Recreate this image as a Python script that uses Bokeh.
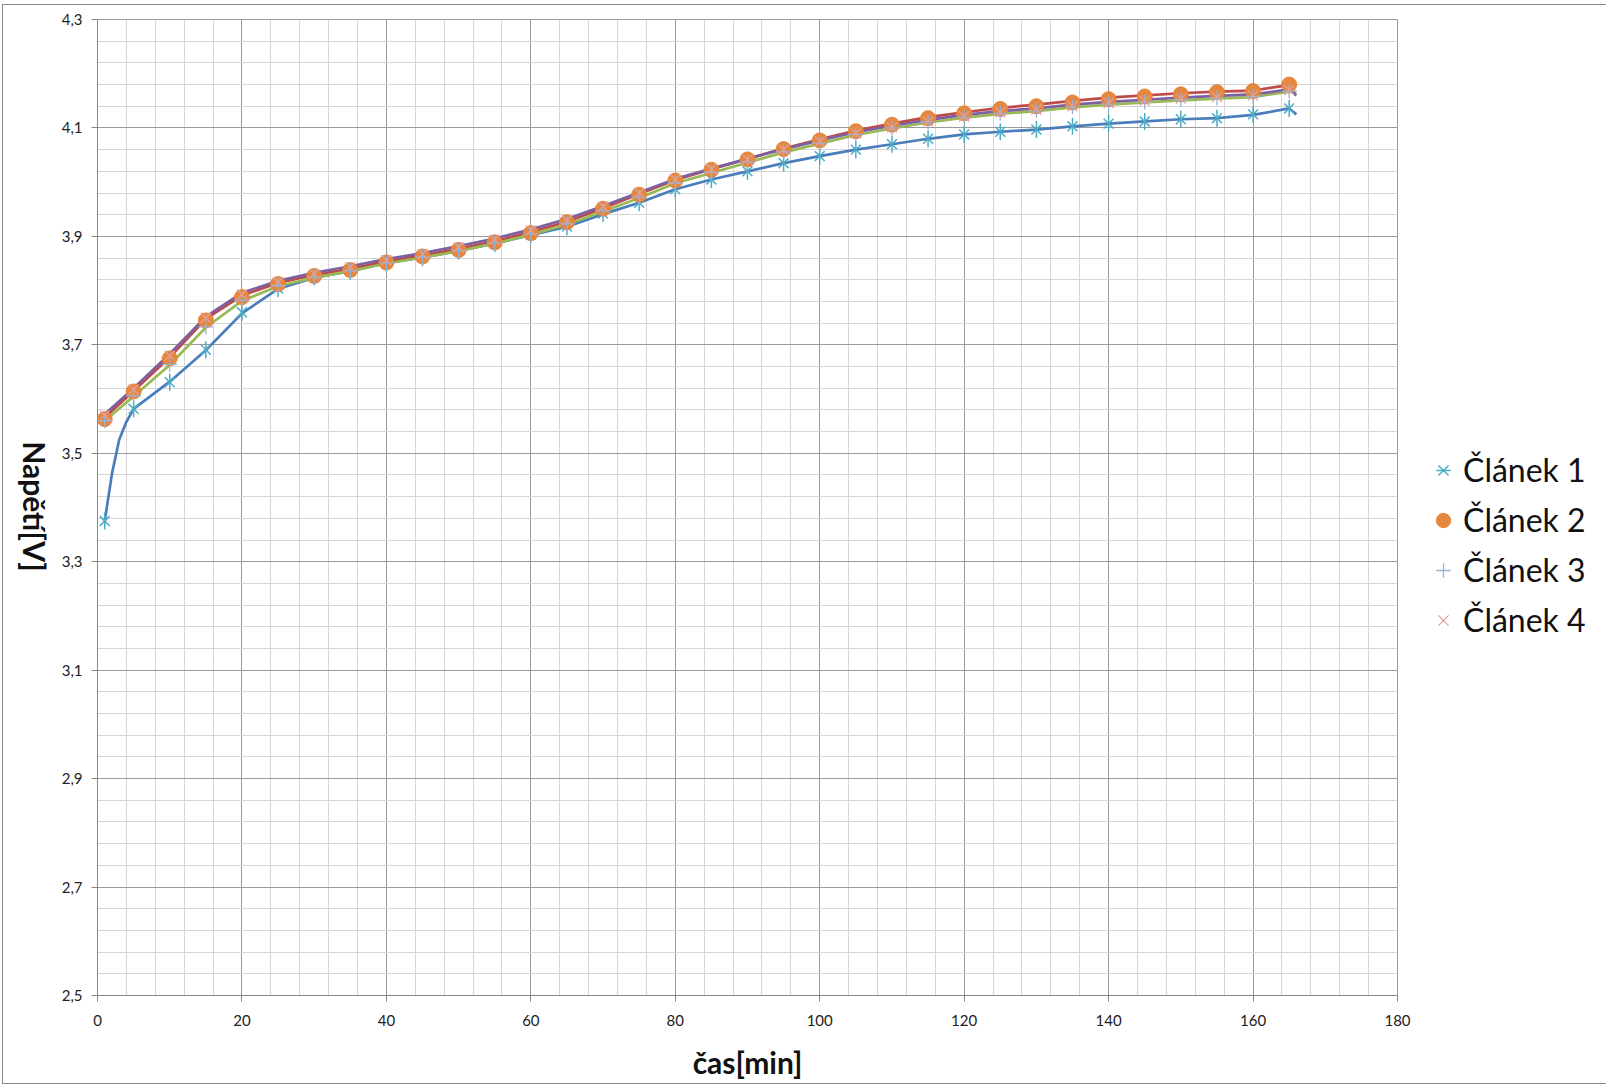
import math
from bokeh.plotting import figure
from bokeh.models import (FixedTicker, Range1d, Legend, LegendItem, Label)
from bokeh.embed import file_html
from bokeh.resources import INLINE

# ---------------- data ----------------
T = [1, 5, 10, 15, 20, 25, 30, 35, 40, 45, 50, 55, 60, 65, 70, 75, 80, 85, 90, 95,
     100, 105, 110, 115, 120, 125, 130, 135, 140, 145, 150, 155, 160, 165]

CLANEK1 = [3.375, 3.582, 3.631, 3.691, 3.760, 3.804, 3.825, 3.836, 3.851, 3.861, 3.873,
           3.887, 3.903, 3.918, 3.942, 3.962, 3.987, 4.005, 4.020, 4.035, 4.048, 4.060,
           4.070, 4.080, 4.088, 4.093, 4.097, 4.103, 4.108, 4.112, 4.116, 4.118, 4.125, 4.136]
CLANEK2 = [3.563, 3.614, 3.675, 3.745, 3.788, 3.812, 3.827, 3.838, 3.852, 3.863, 3.875,
           3.889, 3.906, 3.926, 3.951, 3.977, 4.003, 4.023, 4.042, 4.061, 4.077, 4.094,
           4.106, 4.118, 4.127, 4.135, 4.140, 4.147, 4.153, 4.158, 4.162, 4.166, 4.168, 4.180]
CLANEK3 = [3.560, 3.606, 3.664, 3.733, 3.782, 3.809, 3.825, 3.837, 3.851, 3.862, 3.874,
           3.888, 3.904, 3.923, 3.947, 3.972, 3.998, 4.018, 4.037, 4.056, 4.072, 4.088,
           4.100, 4.111, 4.120, 4.127, 4.132, 4.139, 4.144, 4.148, 4.152, 4.155, 4.158, 4.168]
CLANEK4 = [3.570, 3.618, 3.680, 3.750, 3.793, 3.816, 3.831, 3.843, 3.856, 3.867, 3.880,
           3.894, 3.911, 3.930, 3.955, 3.980, 4.005, 4.024, 4.042, 4.060, 4.075, 4.090,
           4.101, 4.112, 4.121, 4.129, 4.134, 4.140, 4.146, 4.150, 4.154, 4.157, 4.160, 4.170]

# line series (drawn without legend entries)
LINE1_T = [1, 2, 3, 4, 5, 10, 15, 20, 25, 30, 35, 40, 45, 50, 55, 60, 65, 70, 75, 80, 85,
           90, 95, 100, 105, 110, 115, 120, 125, 130, 135, 140, 145, 150, 155, 160, 165, 166]
LINE1_V = [3.375, 3.462, 3.525, 3.558, 3.582, 3.632, 3.690, 3.758, 3.803, 3.824, 3.836,
           3.851, 3.861, 3.873, 3.887, 3.902, 3.918, 3.941, 3.962, 3.987, 4.005, 4.020,
           4.035, 4.048, 4.060, 4.070, 4.080, 4.088, 4.093, 4.097, 4.103, 4.108, 4.112,
           4.116, 4.118, 4.124, 4.136, 4.125]
LINE_T = [1, 5, 10, 15, 20, 25, 30, 35, 40, 45, 50, 55, 60, 65, 70, 75, 80, 85, 90, 95,
          100, 105, 110, 115, 120, 125, 130, 135, 140, 145, 150, 155, 160, 165, 166]
LINE2_V = [3.566, 3.615, 3.677, 3.748, 3.791, 3.814, 3.829, 3.840, 3.854, 3.865, 3.877,
           3.891, 3.908, 3.927, 3.952, 3.978, 4.004, 4.024, 4.043, 4.062, 4.079, 4.095,
           4.108, 4.120, 4.129, 4.137, 4.143, 4.150, 4.156, 4.160, 4.164, 4.167, 4.169,
           4.179, 4.181]
LINE3_V = [3.560, 3.605, 3.663, 3.732, 3.781, 3.808, 3.824, 3.836, 3.850, 3.861, 3.873,
           3.887, 3.903, 3.922, 3.946, 3.971, 3.998, 4.017, 4.036, 4.055, 4.071, 4.087,
           4.099, 4.110, 4.119, 4.126, 4.131, 4.138, 4.143, 4.147, 4.151, 4.154, 4.157,
           4.167, 4.166]
LINE4_V = [3.572, 3.620, 3.683, 3.752, 3.796, 3.818, 3.833, 3.845, 3.858, 3.869, 3.882,
           3.896, 3.913, 3.932, 3.956, 3.981, 4.006, 4.025, 4.043, 4.061, 4.077, 4.092,
           4.104, 4.115, 4.124, 4.131, 4.136, 4.143, 4.148, 4.152, 4.156, 4.159, 4.162,
           4.171, 4.160]

SERIES = ["Článek 1", "Článek 2", "Článek 3", "Článek 4"]
X_TICKS = [0, 20, 40, 60, 80, 100, 120, 140, 160, 180]
Y_TICKS = [2.5, 2.7, 2.9, 3.1, 3.3, 3.5, 3.7, 3.9, 4.1, 4.3]
Y_TICK_LABELS = ["2,5", "2,7", "2,9", "3,1", "3,3", "3,5", "3,7", "3,9", "4,1", "4,3"]
X_TITLE = "čas[min]"
Y_TITLE = "Napětí[V]"

# ---------------- style ----------------
FONT = "Lato"
MAJOR = "#9a9a9a"
MINOR = "#d6d6d6"
AXIS = "#878787"

p = figure(frame_width=1300, frame_height=976, output_backend="svg", toolbar_location=None,
           x_range=Range1d(0, 180), y_range=Range1d(2.5, 4.3),
           min_border_left=94, min_border_top=14, min_border_right=200,
           min_border_bottom=88)
p.styles = {"border": "1px solid #8a8a8a", "margin-left": "2px", "margin-top": "4px"}
p.background_fill_color = "white"
p.border_fill_color = "white"
p.outline_line_color = MAJOR

x_minor = [v for v in range(0, 181, 4)]
y_minor = [round(2.5 + 0.04 * i, 2) for i in range(46)]
xt = FixedTicker(ticks=X_TICKS, minor_ticks=x_minor)
yt = FixedTicker(ticks=Y_TICKS, minor_ticks=y_minor)
p.xaxis.ticker = xt
p.yaxis.ticker = yt
p.xgrid.ticker = xt
p.ygrid.ticker = yt
for g in (p.xgrid, p.ygrid):
    g.grid_line_color = MAJOR
    g.grid_line_width = 1
    g.minor_grid_line_color = MINOR
    g.minor_grid_line_width = 1

p.yaxis.major_label_overrides = {t: l for t, l in zip(Y_TICKS, Y_TICK_LABELS)}
for ax in (p.xaxis, p.yaxis):
    ax.axis_line_color = AXIS
    ax.major_tick_line_color = AXIS
    ax.major_tick_out = 6
    ax.major_tick_in = 0
    ax.minor_tick_line_color = None
    ax.major_label_text_font = FONT
    ax.major_label_text_font_size = "15px"
    ax.major_label_text_color = "#222222"
    ax.axis_label_text_font = FONT
    ax.axis_label_text_font_style = "bold"
    ax.axis_label_text_font_size = "30px"
    ax.axis_label_text_color = "#111111"
p.xaxis.major_label_standoff = 13
p.yaxis.major_label_standoff = 9
p.xaxis.axis_label = X_TITLE
p.xaxis.axis_label_standoff = 15

# y title: rotated label (reads top to bottom) in the left panel
p.add_layout(Label(x=12, y=489, x_units="screen", y_units="screen", text=Y_TITLE,
                   angle=-math.pi / 2, text_align="center", text_baseline="middle",
                   text_font=FONT, text_font_style="bold", text_font_size="30px",
                   text_color="#111111"), "left")

# lines
LINE_COLORS = ["#4A7EBB", "#BE4B48", "#98B954", "#7D60A0"]
p.line(LINE1_T, LINE1_V, line_color=LINE_COLORS[0], line_width=2.7)
p.line(LINE_T, LINE2_V, line_color=LINE_COLORS[1], line_width=2.7)
p.line(LINE_T, LINE3_V, line_color=LINE_COLORS[2], line_width=2.7)
p.line(LINE_T, LINE4_V, line_color=LINE_COLORS[3], line_width=2.7)

# markers
r1a = p.scatter(T, CLANEK1, marker="x", size=14, line_color="#4BACC6", line_width=1.5)
r1b = p.scatter(T, CLANEK1, marker="dash", size=17, angle=math.pi / 2,
                line_color="#4BACC6", line_width=1.5)
r2 = p.scatter(T, CLANEK2, marker="circle", size=15, fill_color="#E5873F",
               line_color="#E5873F")
r3 = p.scatter(T, CLANEK3, marker="cross", size=15, line_color="#95B3D7", line_width=1.3)
r4 = p.scatter(T, CLANEK4, marker="x", size=14, line_color="#E0A09E", line_width=1.3)

legend = Legend(items=[LegendItem(label=SERIES[0], renderers=[r1a, r1b]),
                       LegendItem(label=SERIES[1], renderers=[r2]),
                       LegendItem(label=SERIES[2], renderers=[r3]),
                       LegendItem(label=SERIES[3], renderers=[r4])],
                location=(28, 356), orientation="vertical",
                border_line_color=None, background_fill_alpha=0,
                padding=0, margin=0, spacing=11,
                glyph_width=36, glyph_height=38, label_height=38,
                label_standoff=2,
                label_text_font=FONT, label_text_font_size="32px",
                label_text_color="#111111")
p.add_layout(legend, "right")

open("out.html", "w").write(file_html(p, INLINE))
